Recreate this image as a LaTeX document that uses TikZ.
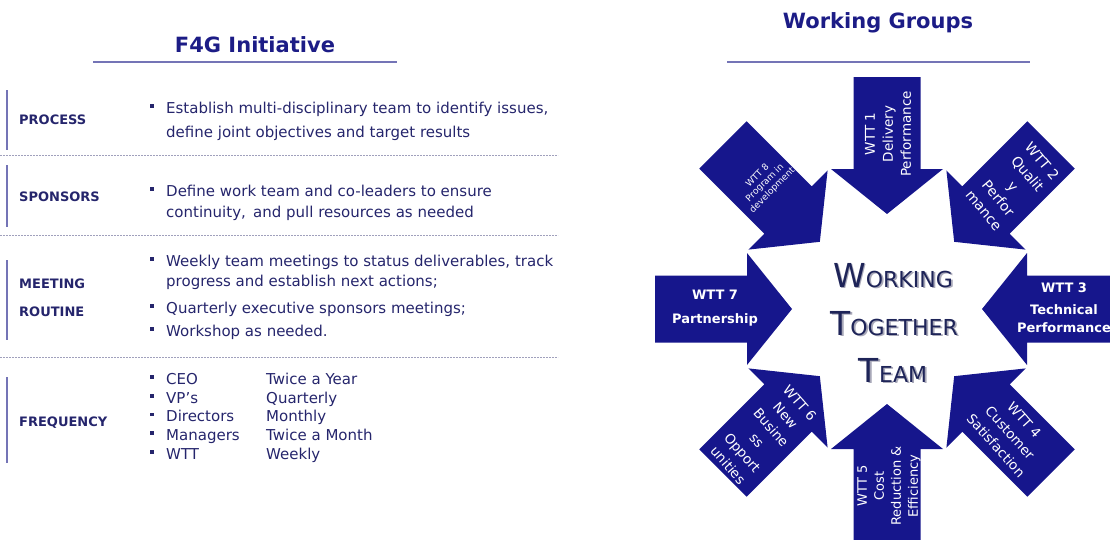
\documentclass[tikz,border=0pt]{standalone}
\usepackage{fontspec}
\setmainfont{DejaVu Sans}
\definecolor{navy}{HTML}{1C1C86}
\definecolor{ink}{HTML}{25256C}
\definecolor{arrowblue}{HTML}{16168C}
\definecolor{rulecol}{HTML}{7474B6}
\definecolor{dashcol}{HTML}{A0A0BC}
\definecolor{centerink}{HTML}{1E2458}
\definecolor{shade}{HTML}{A8A8B8}

\begin{document}
\begin{tikzpicture}[x=1pt,y=-1pt,
  title/.style={font=\fontsize{21}{21}\selectfont\bfseries, text=navy, inner sep=0, anchor=base},
  rowlabel/.style={font=\fontsize{13}{13}\selectfont\bfseries, text=ink, anchor=base west, inner sep=0},
  body/.style={font=\fontsize{15}{15}\selectfont, text=ink, anchor=base west, inner sep=0},
  bulletmark/.style={fill=ink, rectangle, minimum size=3.8pt, inner sep=0},
  sidebar/.style={draw=rulecol, line width=1.6pt},
  divider/.style={draw=dashcol, line width=0.8pt, dash pattern=on 1.6pt off 1.4pt},
  headrule/.style={draw=rulecol, line width=1.4pt},
  wgarrow/.style={fill=arrowblue},
  atext/.style={text=white, align=center, inner sep=0}
]
\path[use as bounding box] (0,0) rectangle (1110,539);
\clip (0,0) rectangle (1110,539);

% ---------- left panel: F4G initiative ----------
\node[title] (t1) at (255,52) {F4G Initiative};
\draw[headrule] (93,62) -- (397,62);

% row dividers
\draw[divider] (0,155) -- (558,155);
\draw[divider] (0,235) -- (558,235);
\draw[divider] (0,357) -- (558,357);

% row side bars
\draw[sidebar] (7,90) -- (7,150);
\draw[sidebar] (7,165) -- (7,227);
\draw[sidebar] (7,260) -- (7,340);
\draw[sidebar] (7,377) -- (7,463);

% PROCESS
\node[rowlabel] (lp) at (19,124) {PROCESS};
\node[bulletmark] (b1) at (152,106) {};
\node[body] (p1) at (166,113) {Establish multi-disciplinary team to identify issues,};
\node[body] (p2) at (166,137) {define joint objectives and target results};

% SPONSORS
\node[rowlabel] (ls) at (19,201) {SPONSORS};
\node[bulletmark] (b2) at (152,189) {};
\node[body] (s1) at (166,196) {Define work team and co-leaders to ensure};
\node[body] (s2) at (166,217) {continuity,\, and pull resources as needed};

% MEETING ROUTINE
\node[rowlabel] (lm1) at (19,288) {MEETING};
\node[rowlabel] (lm2) at (19,316) {ROUTINE};
\node[bulletmark] (b3) at (152,259) {};
\node[body] (m1) at (166,266) {Weekly team meetings to status deliverables, track};
\node[body] (m2) at (166,286) {progress and establish next actions;};
\node[bulletmark] (b4) at (152,306) {};
\node[body] (m3) at (166,313) {Quarterly executive sponsors meetings;};
\node[bulletmark] (b5) at (152,329) {};
\node[body] (m4) at (166,336) {Workshop as needed.};

% FREQUENCY
\node[rowlabel] (lf) at (19,426) {FREQUENCY};
\foreach \who/\when/\yy [count=\i] in {CEO/Twice a Year/384,VP’s/Quarterly/403,Directors/Monthly/421.5,Managers/Twice a Month/440,WTT/Weekly/459}{
  \node[bulletmark] (fb\i) at (152,\yy-7) {};
  \node[body] (fw\i) at (166,\yy) {\who};
  \node[body] (fq\i) at (266,\yy) {\when};
}

% ---------- right panel: working groups ----------
\node[title] (t2) at (878,28) {Working Groups};
\draw[headrule] (727,62) -- (1030,62);

% eight arrows pointing at the hub
\foreach \ang in {0,45,...,315}{
  \begin{scope}[shift={(887,309)}, rotate=\ang]
    \fill[wgarrow] (95,0) -- (140,56) -- (140,33.5) -- (232,33.5)
                   -- (232,-33.5) -- (140,-33.5) -- (140,-56) -- cycle;
  \end{scope}
}

% arrow captions
\node[atext, rotate=90, font=\fontsize{13.5}{18}\selectfont] (w1) at (888,134)
  {WTT 1\\Delivery\\Performance};
\node[atext, rotate=-50, font=\fontsize{14}{19}\selectfont] (w2) at (1013,186)
  {WTT 2\\Qualit\\y\\Perfor\\mance};
\node[atext, font=\fontsize{13}{18}\selectfont\bfseries] (w3) at (1064,308)
  {WTT 3\\[4pt]Technical\\Performance};
\node[atext, rotate=-48, font=\fontsize{13.5}{19}\selectfont] (w4) at (1010,433)
  {WTT 4\\Customer\\Satisfaction};
\node[atext, rotate=90, font=\fontsize{13}{17}\selectfont] (w5) at (889,486)
  {WTT 5\\Cost\\Reduction \&\\Efficiency};
\node[atext, rotate=-49, font=\fontsize{13.5}{19}\selectfont] (w6) at (764,434)
  {WTT 6\\New\\Busine\\ss\\Opport\\unities};
\node[atext, font=\fontsize{13}{18}\selectfont\bfseries] (w7) at (715,308)
  {WTT 7\\[6pt]Partnership};
\node[atext, rotate=45, font=\fontsize{9}{10.5}\selectfont] (w8) at (765,183)
  {WTT 8\\Program in\\development};

% hub title with soft shadow
\foreach \dx/\col/\nm in {1.8/shade/s,0/centerink/c}{
  \begin{scope}[shift={(\dx,\dx)}]
    \node[anchor=base, inner sep=0, text=\col] (hub1\nm) at (893,287)
      {{\fontsize{33}{33}\selectfont W}{\fontsize{22}{22}\selectfont ORKING}};
    \node[anchor=base, inner sep=0, text=\col] (hub2\nm) at (894,335)
      {{\fontsize{33}{33}\selectfont T}{\fontsize{22}{22}\selectfont OGETHER}};
    \node[anchor=base, inner sep=0, text=\col] (hub3\nm) at (893,382)
      {{\fontsize{33}{33}\selectfont T}{\fontsize{22}{22}\selectfont EAM}};
  \end{scope}
}
\end{tikzpicture}
\end{document}
